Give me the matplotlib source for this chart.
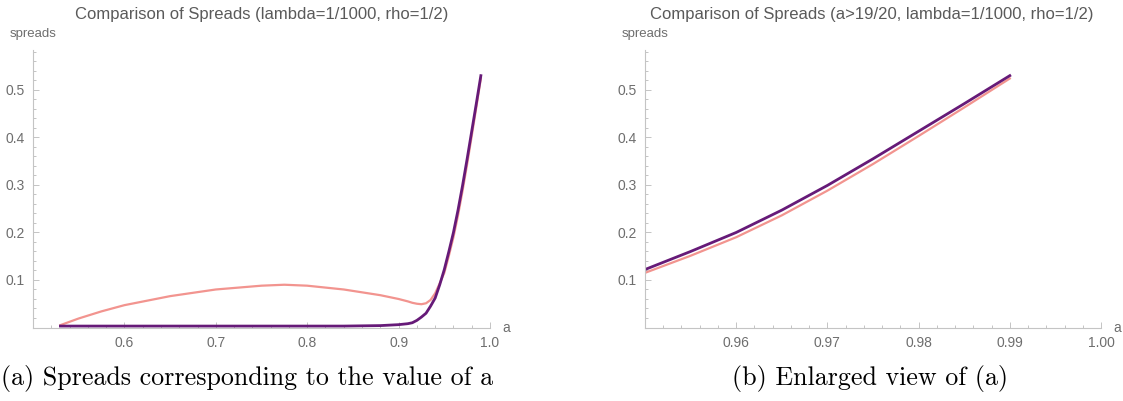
import matplotlib
matplotlib.use('Agg')
import matplotlib.pyplot as plt
import numpy as np
from matplotlib.ticker import MultipleLocator, FixedLocator, FormatStrFormatter

# values
a_vals = [0.53, 0.55, 0.575, 0.60, 0.65, 0.70, 0.75, 0.775, 0.80, 0.84, 0.88, 0.90,
          0.91, 0.915, 0.92, 0.925, 0.93, 0.935, 0.94, 0.945,
          0.95, 0.955, 0.96, 0.965, 0.97, 0.975, 0.98, 0.985, 0.99]
spread_pink = [0.005, 0.019, 0.034, 0.047, 0.066, 0.080, 0.088, 0.090, 0.088, 0.080, 0.068, 0.060,
               0.055, 0.052, 0.050, 0.049, 0.051, 0.058, 0.072, 0.093,
               0.115, 0.151, 0.190, 0.236, 0.288, 0.344, 0.403, 0.463, 0.524]
spread_purple = [0.003, 0.003, 0.003, 0.003, 0.003, 0.003, 0.003, 0.003, 0.003, 0.003, 0.004, 0.006,
                 0.008, 0.010, 0.015, 0.022, 0.030, 0.045, 0.062, 0.090,
                 0.122, 0.160, 0.200, 0.247, 0.299, 0.355, 0.413, 0.471, 0.530]

titles = ['Comparison of Spreads (lambda=1/1000, rho=1/2)',
          'Comparison of Spreads (a>19/20, lambda=1/1000, rho=1/2)']
captions = ['(a) Spreads corresponding to the value of a', '(b) Enlarged view of (a)']
x_ticks_a = [0.6, 0.7, 0.8, 0.9, 1.0]
x_ticks_b = [0.96, 0.97, 0.98, 0.99, 1.00]
y_ticks = [0.1, 0.2, 0.3, 0.4, 0.5]

PINK = '#f2948f'
PURPLE = '#661a78'
GREY_AX = '#c4c4c4'
GREY_TXT = '#6e6e6e'

plt.rcParams['font.family'] = ['Liberation Sans', 'DejaVu Sans']

fig = plt.figure(figsize=(11.23, 4.01), dpi=100)
W, H = 1123, 401

a = np.array(a_vals)
pink = np.array(spread_pink)
purple = np.array(spread_purple)


def setup(ax, xlim, xticks, minor, fmt):
    ax.set_xlim(*xlim)
    ax.set_ylim(0, 0.584)
    for s in ['top', 'right']:
        ax.spines[s].set_visible(False)
    for s in ['left', 'bottom']:
        ax.spines[s].set_color(GREY_AX)
        ax.spines[s].set_linewidth(0.8)
    ax.xaxis.set_major_locator(FixedLocator(xticks))
    ax.xaxis.set_minor_locator(MultipleLocator(minor))
    ax.xaxis.set_major_formatter(FormatStrFormatter(fmt))
    ax.yaxis.set_major_locator(FixedLocator(y_ticks))
    ax.yaxis.set_minor_locator(MultipleLocator(0.02))
    ax.yaxis.set_major_formatter(FormatStrFormatter('%.1f'))
    ax.tick_params(which='both', direction='in', color=GREY_AX, labelcolor=GREY_TXT,
                   labelsize=10, width=0.7)
    ax.tick_params(which='major', length=4, pad=6)
    ax.tick_params(which='minor', length=2.2)


# left panel
ax1 = fig.add_axes([33 / W, 73.5 / H, 457 / W, 277.5 / H])
setup(ax1, (0.5, 1.0), x_ticks_a, 0.02, '%.1f')
ax1.plot(a, pink, color=PINK, lw=1.6)
ax1.plot(a, purple, color=PURPLE, lw=2.0)

# right panel (a >= 0.95)
m = a >= 0.95
ax2 = fig.add_axes([645 / W, 73.5 / H, 456 / W, 277.5 / H])
setup(ax2, (0.95, 1.0), x_ticks_b, 0.002, '%.2f')
ax2.plot(a[m], pink[m], color=PINK, lw=1.6)
ax2.plot(a[m], purple[m], color=PURPLE, lw=2.0)

for ax, t, cx, cap, capx in [(ax1, titles[0], 262, captions[0], 247),
                             (ax2, titles[1], 872, captions[1], 870)]:
    fig.text(cx / W, 1 - 14 / H, t, ha='center', va='center', color='#5a5a5a', fontsize=12)
    ax.text(0, 1.058, 'spreads', transform=ax.transAxes, ha='center', va='center',
            color=GREY_TXT, fontsize=9.5)
    ax.text(1.028, 0.0, 'a', transform=ax.transAxes, ha='left', va='center',
            color=GREY_TXT, fontsize=10)
    fig.text(capx / W, 1 - 378 / H, cap, ha='center', va='center', color='black',
             fontsize=18.7, family='cmr10')

fig.savefig('out.png', dpi=100)
